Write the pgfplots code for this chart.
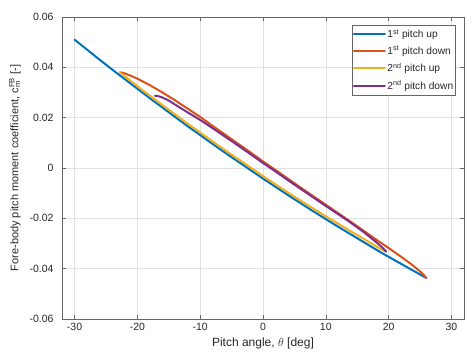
\documentclass[border=0pt]{standalone}
\usepackage{pgfplots}
\pgfplotsset{compat=1.18}
\usepackage{fontspec}
\setmainfont{Liberation Sans}

\definecolor{mblue}{rgb}{0,0.447,0.741}
\definecolor{mred}{rgb}{0.850,0.325,0.098}
\definecolor{myellow}{rgb}{0.929,0.694,0.125}
\definecolor{mpurple}{rgb}{0.494,0.184,0.556}
\definecolor{axgray}{rgb}{0.40,0.40,0.40}
\definecolor{txtgray}{rgb}{0.15,0.15,0.15}
\definecolor{gridgray}{rgb}{0.88,0.88,0.88}

\begin{document}
\begin{tikzpicture}
\begin{axis}[
  scale only axis,
  width=402pt, height=302pt,
  xmin=-32, xmax=32,
  ymin=-0.06, ymax=0.06,
  xtick={-30,-20,...,30},
  ytick={-0.06,-0.04,...,0.061},
  scaled y ticks=false,
  /pgf/number format/assume math mode=true,
  yticklabel style={/pgf/number format/fixed, /pgf/number format/precision=2},
  tick label style={font=\fontsize{10.5}{12}\selectfont, text=txtgray},
  xticklabel style={yshift=-1pt},
  yticklabel style={xshift=-5pt},
  grid=major,
  major grid style={gridgray, line width=0.5pt},
  axis line style={axgray, line width=0.6pt},
  tick style={axgray, line width=0.6pt},
  tick align=inside,
  major tick length=4pt,
  label style={text=txtgray},
  xlabel={Pitch angle, $\theta$ [deg]},
  ylabel={Fore-body pitch moment coefficient, c\rlap{\textsubscript{m}}\textsuperscript{FB} [-]},
  xlabel style={font=\fontsize{12}{14}\selectfont, at={(axis description cs:0.5,-0.08)}, anchor=center},
  ylabel style={font=\fontsize{11}{13}\selectfont, at={(axis description cs:-0.117,0.5)}, anchor=center},
  legend cell align=left,
  legend style={at={(0.98,0.974)}, anchor=north east, draw=axgray, line width=0.5pt,
    fill=white, font=\fontsize{10.2}{12}\selectfont, text=txtgray,
    inner xsep=1pt, inner ysep=2.5pt, row sep=3pt, nodes={inner xsep=1.5pt}},
  legend image code/.code={\draw[#1, line width=2pt] (0pt,0pt) -- (31pt,0pt);},
  every axis plot/.append style={line width=2pt, line join=round, line cap=round},
]
% first cycle, angle increasing
\addplot[mblue] coordinates {
(-30,0.0510) (-28,0.0470) (-26,0.0430) (-24,0.0391) (-22,0.0353) (-20,0.0315)
(-18,0.0277) (-16,0.0240) (-14,0.0203) (-12,0.0166) (-10,0.0131) (-8,0.0095)
(-6,0.0060) (-4,0.0026) (-2,-0.0008) (0,-0.0042) (2,-0.0075) (4,-0.0108)
(6,-0.0140) (8,-0.0172) (10,-0.0203) (12,-0.0234) (14,-0.0264) (16,-0.0294)
(18,-0.0324) (20,-0.0353) (22,-0.0381) (24,-0.0409) (25,-0.0423) (26,-0.0437)};
\addlegendentry{1\textsuperscript{st} pitch up}
% first cycle, angle decreasing
\addplot[mred] coordinates {
(26,-0.0437) (25.5,-0.0423) (25,-0.0411) (24,-0.0390) (23,-0.0371) (22,-0.0353)
(20,-0.0318) (18,-0.0284) (16,-0.0249) (14,-0.0214) (12,-0.0180) (10,-0.0146)
(8,-0.0112) (6,-0.0078) (4,-0.0043) (2,-0.0008) (0,0.0026) (-2,0.0062)
(-4,0.0097) (-6,0.0132) (-8,0.0167) (-10,0.0203) (-12,0.0236) (-14,0.0269)
(-16,0.0300) (-18,0.0329) (-19,0.0342) (-20,0.0355) (-21,0.0366) (-22,0.0376)
(-22.5,0.0379) (-22.8,0.0380)};
\addlegendentry{1\textsuperscript{st} pitch down}
% second cycle, angle increasing
\addplot[myellow] coordinates {
(-22.8,0.0380) (-22.5,0.0375) (-22,0.0364) (-20,0.0325) (-18,0.0287) (-16,0.0250)
(-14,0.0213) (-12,0.0176) (-10,0.0141) (-8,0.0105) (-6,0.0070) (-4,0.0036)
(-2,0.0002) (0,-0.0032) (2,-0.0065) (4,-0.0098) (6,-0.0130) (8,-0.0161)
(10,-0.0192) (12,-0.0222) (14,-0.0252) (16,-0.0281) (18,-0.0311) (19,-0.0325)
(19.6,-0.0332)};
\addlegendentry{2\textsuperscript{nd} pitch up}
% second cycle, angle decreasing
\addplot[mpurple] coordinates {
(19.6,-0.0332) (19,-0.0316) (18,-0.0294) (16,-0.0254) (14,-0.0218) (12,-0.0184)
(10,-0.0151) (8,-0.0117) (6,-0.0083) (4,-0.0049) (2,-0.0014) (0,0.0020)
(-2,0.0055) (-4,0.0090) (-6,0.0124) (-8,0.0158) (-10,0.0191) (-12,0.0221)
(-14,0.0252) (-15,0.0268) (-16,0.0280) (-16.6,0.0285) (-17.2,0.0287)};
\addlegendentry{2\textsuperscript{nd} pitch down}
\end{axis}
\pgfresetboundingbox
\path[use as bounding box] (-62pt,-36pt) rectangle (412pt,319pt);
\end{tikzpicture}
\end{document}
